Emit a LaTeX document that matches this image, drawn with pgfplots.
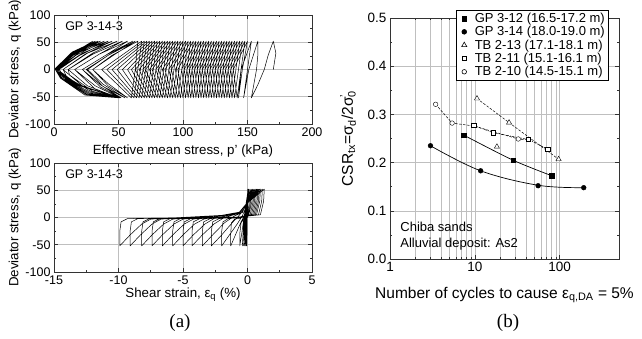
\documentclass[border=0pt]{standalone}
\usepackage{fontspec}
\setmainfont{Liberation Sans}
\newfontfamily\seriffont{Liberation Serif}
\usepackage{pgfplots}
\pgfplotsset{compat=1.18}
\newcommand\supsub[2]{\rlap{\textsuperscript{#1}}\textsubscript{#2}}
\begin{document}
\begin{tikzpicture}
\useasboundingbox (0pt,0pt) rectangle (642pt,338pt);
\pgfplotsset{
 panel/.style={scale only axis,
   axis line style={black!80, line width=0.7pt},
   tick style={black!80, line width=0.6pt},
   major tick length=4pt, minor tick length=2.2pt,
   grid style={black!25, line width=0.6pt},
   tick label style={font=\fontsize{12.5}{14}\selectfont},
   label style={font=\fontsize{13.3}{15}\selectfont},
   /pgf/number format/assume math mode=true,
 },
 loop/.style={black, line width=0.5pt, line join=round},
 legmark/.style={legend image code/.code={\path[draw=none, fill=none] (0pt,0pt) -- (15pt,0pt); \draw[solid, black, line width=0.6pt] plot[only marks, #1] coordinates {(6.5pt,0pt)};}},
}
% ---------- top left: q vs p'
\begin{axis}[panel, at={(54pt,214pt)}, anchor=south west, width=258pt, height=109pt,
  xmin=0, xmax=200, ymin=-100, ymax=100,
  xtick={0,50,100,150,200}, ytick={-100,-50,0,50,100},
  minor x tick num=1, minor y tick num=1,
  xmajorgrids, ymajorgrids,
  xlabel={Effective mean stress, p' (kPa)},
  ylabel={Deviator stress, q (kPa)},
  xlabel style={at={(axis description cs:0.5,-0.25)}, anchor=center},
  ylabel style={at={(axis description cs:-0.151,0.5)}, anchor=center},
  clip=false]
\node[anchor=west, font=\fontsize{12.5}{14}\selectfont] at (axis description cs:0.03,0.9) {GP 3-14-3};
\addplot[loop] coordinates {
(170,0) (172,30) (170,52)
(166,26) (163,0) (158,-28) (153,-52) (155,-26) (157,0) (158,26)
(158,52) (151,0) (147,-52) (150,0)
(153,52) (145,0) (143,-52) (146,0)
(150,52) (139,0) (142,-52) (145,0)
(148,52) (137,0) (140,-52) (143,0)
(146,52) (135,0) (138,-52) (141,0)
(144,52) (133,0) (136,-52) (139,0)
(142,52) (131,0) (134,-52) (137,0)
(140,52) (129,0) (132,-52) (135,0)
(138,52) (127,0) (130,-52) (133,0)
(136,52) (125,0) (128,-52) (131,0)
(134,52) (123,0) (126,-52) (129,0)
(132,52) (121,0) (124,-52) (127,0)
(130,52) (119,0) (122,-52) (125,0)
(128,52) (117,0) (120,-52) (123,0)
(126,52) (115,0) (118,-52) (121,0)
(124,52) (113,0) (116,-52) (119,0)
(122,52) (111,0) (114,-52) (117,0)
(120,52) (109,0) (112,-52) (115,0)
(118,52) (107,0) (110,-52) (113,0)
(116,52) (105,0) (108,-52) (111,0)
(114,52) (103,0) (106,-52) (109,0)
(112,52) (101,0) (104,-52) (107,0)
(110,52) (99,0) (102,-52) (105,0)
(108,52) (96,0) (100,-52) (103,0)
(106,52) (94,0) (98,-52) (101,0)
(104,52) (91,0) (96,-52) (99,0)
(102,52) (89,0) (94,-52) (97,0)
(100,52) (86,0) (92,-52) (95,0)
(98,52) (84,0) (90,-52) (93,0)
(96,52) (81,0) (88,-52) (91,0)
(94,52) (79,0) (86,-52) (89,0)
(92,52) (76,0) (84,-52) (87,0)
(90,52) (74,0) (82,-52) (85,0)
(88,52) (71,0) (80,-52) (83,0)
(86,52) (69,0) (78,-52) (81,0)
(84,52) (66,0) (76,-52) (79,0)
(82,52) (63,0) (74,-52) (77,0)
(80,52) (60,0) (72,-52) (75,0)
(78,52) (57,0) (70,-52) (73,0)
(76,52) (53,0) (68,-52) (71,0)
(74,52) (49,0) (66,-52) (69,0)
(72,52) (45,0) (64,-52) (67,0)
(70,52) (41,0) (62,-52) (65,0)
(68,52) (37,0) (60,-52) (63,0)
(65,52) (45,26) (30,0) (42,-26) (57,-52) (42,-30) (30,0) (46,26)
(63,52) (42,26) (26,0) (38,-27) (55,-52) (38,-31) (25,0) (42,26)
(61,52) (40,26) (22,0) (36,-28) (52,-52) (36,-32) (22,0) (40,26)
(57,52) (35,28) (16,0) (32,-30) (51,-52) (32,-36) (16,0) (35,28)
(53,52) (30,28) (11,0) (26,-30) (50,-52) (30,-40) (12,-10) (11,0) (30,30)
(49,52) (26,30) (7,0) (22,-30) (50,-52) (30,-42) (10,-14) (7,0) (24,28)
(45,52) (22,30) (4,2) (5,-4) (20,-30) (50,-52) (30,-44) (9,-18) (4,0) (20,26)
(42,52) (20,32) (3,2) (4,-4) (18,-28) (50,-52) (28,-44) (8,-18) (3,0) (17,26)
(39,52) (18,32) (2,2) (3,-4) (17,-27) (50,-52) (27,-45) (7,-18) (2,0) (15,26)
(36,52) (16,32) (2,2) (3,-4) (16,-26) (50,-52) (26,-46) (6,-17) (2,0) (14,26)
(34,52) (15,32) (1,2) (2,-4) (15,-25) (50,-52) (25,-46) (6,-17) (1,0) (13,26)
(32,52) (14,32) (1,2) (2,-4) (14,-25) (50,-52) (24,-47) (5,-16) (1,0) (12,26)
(30,52)
};
\end{axis}
% ---------- bottom left: q vs shear strain
\begin{axis}[panel, at={(54pt,66pt)}, anchor=south west, width=258pt, height=109pt,
  xmin=-15, xmax=5, ymin=-100, ymax=100,
  xtick={-15,-10,-5,0,5}, ytick={-100,-50,0,50,100},
  minor x tick num=1, minor y tick num=1,
  xmajorgrids, ymajorgrids,
  xlabel={Shear strain, ε\textsubscript{q} (\%)},
  ylabel={Deviator stress, q (kPa)},
  xlabel style={at={(axis description cs:0.5,-0.21)}, anchor=center},
  ylabel style={at={(axis description cs:-0.151,0.5)}, anchor=center},
  clip=false]
\node[anchor=west, font=\fontsize{12.5}{14}\selectfont] at (axis description cs:0.03,0.9) {GP 3-14-3};
\addplot[loop] coordinates {
(0,0) (0.02,52) (-0.03,0) (-0.05,-52) (-0.02,0) (0.02,52) (-0.05,0) (-0.1,-52) (-0.06,0)
(0.02,52) (-0.08,0) (-0.15,-52) (-0.1,0) (0.03,52) (-0.12,0) (-0.22,-52) (-0.15,0)
(0.03,52) (-0.16,0) (-0.3,-52) (-0.2,0) (0.04,52) (-0.22,0) (-0.4,-52) (-0.27,0) (0.05,52)
(0.0,30) (-0.1,5) (-0.3,-3) (-0.5,-10) (-0.6,-30) (-0.6,-52) (-0.45,-30) (-0.3,-5) (-0.1,20) (0.1,52)
(0.05,30) (-0.1,5) (-0.5,-1) (-1.0,-3) (-1.25,-10) (-1.3,-30) (-1.3,-52) (-0.9,-30) (-0.5,-8) (-0.2,5) (-0.05,25) (0.2,52)
(0.15,30) (0,5) (-0.6,0) (-1.5,-2) (-1.9,-8) (-2.0,-25) (-2.0,-52) (-1.4,-32) (-0.8,-12) (-0.4,3) (-0.1,20) (0.3,52)
(0.25,30) (0.05,5) (-0.6,1) (-2.2,-2) (-2.7,-8) (-2.8,-25) (-2.8,-52) (-2.0,-32) (-1.2,-10) (-0.6,5) (-0.15,20) (0.4,52)
(0.35,30) (0.1,5) (-0.6,1) (-2.9,-2) (-3.4,-8) (-3.5,-25) (-3.5,-52) (-2.7,-32) (-1.8,-10) (-1.0,3) (-0.4,9) (-0.1,25) (0.5,52)
(0.45,30) (0.2,5) (-0.6,1) (-3.7,-2) (-4.2,-8) (-4.3,-25) (-4.3,-52) (-3.5,-32) (-2.6,-12) (-1.8,0) (-0.6,8) (-0.1,25) (0.6,52)
(0.55,30) (0.3,5) (-0.6,1) (-4.4,-2) (-4.9,-8) (-5.0,-25) (-5.0,-52) (-4.2,-32) (-3.3,-12) (-2.6,-2) (-0.7,8) (-0.1,25) (0.7,52)
(0.65,30) (0.4,5) (-0.6,1) (-5.2,-2) (-5.7,-8) (-5.8,-25) (-5.8,-52) (-5.0,-32) (-4.1,-12) (-3.4,-3) (-2.0,3) (-0.6,9) (-0.1,25) (0.8,52)
(0.75,30) (0.5,5) (-0.6,1) (-6.0,-2) (-6.5,-8) (-6.6,-25) (-6.6,-52) (-5.8,-32) (-4.9,-12) (-4.2,-3) (-2.0,4) (-0.6,10) (-0.1,25) (0.9,52)
(0.85,30) (0.6,5) (-0.6,1) (-6.8,-2) (-7.3,-8) (-7.4,-25) (-7.4,-52) (-6.6,-32) (-5.7,-12) (-5.0,-3) (-2.0,4) (-0.6,10) (-0.1,25) (1.0,52)
(0.95,30) (0.7,5) (-0.6,1) (-7.6,-2) (-8.1,-8) (-8.2,-25) (-8.2,-52) (-7.4,-32) (-6.5,-12) (-5.8,-3) (-2.0,4) (-0.6,10) (-0.1,25) (1.15,52)
(1.1,30) (0.85,5) (-0.6,1) (-8.5,-2) (-9.0,-8) (-9.1,-25) (-9.1,-52) (-8.3,-32) (-7.4,-12) (-6.7,-3) (-2.0,4) (-0.6,10) (-0.1,25) (1.3,52)
(1.25,30) (1.0,5) (-0.6,1) (-9.3,-2) (-9.8,-8) (-9.9,-25) (-9.9,-52) (-9.1,-32) (-8.2,-12) (-7.5,-3) (-2.0,4) (-0.6,10) (-0.1,25) (0.0,40)
};
\end{axis}
% ---------- right: CSR vs N
\begin{axis}[panel, at={(390pt,79pt)}, anchor=south west, width=229pt, height=241pt,
  xmode=log, xmin=1, xmax=500, ymin=0, ymax=0.5,
  xtick={1,10,100}, xticklabels={1,10,100},
  ytick={0,0.1,0.2,0.3,0.4,0.5}, yticklabels={0.0,0.1,0.2,0.3,0.4,0.5},
  minor y tick num=1,
  xmajorgrids, xminorgrids, ymajorgrids,
  minor grid style={black!25, line width=0.6pt},
  tick label style={font=\fontsize{13.5}{15}\selectfont},
  label style={font=\fontsize{15.5}{17}\selectfont},
  xlabel={Number of cycles to cause ε\textsubscript{q,DA} = 5\%},
  ylabel={CSR\textsubscript{tx}=σ\textsubscript{d}/2σ\supsub{'}{0}},
  xlabel style={at={(axis description cs:0.5,-0.149)}, anchor=center},
  ylabel style={at={(axis description cs:-0.183,0.5)}, anchor=center},
  legend style={at={(axis description cs:0.288,1.033)}, anchor=north west,
    draw=black, line width=0.6pt, fill=white, inner sep=1.5pt,
    font=\fontsize{13}{15}\selectfont, row sep=0pt, nodes={inner ysep=1.2pt}},
  legend cell align=left,
  clip=false]
\addlegendimage{legmark={mark=square*, mark size=2.3pt, mark options={fill=black}}}
\addlegendentry{GP 3-12 (16.5-17.2 m)}
\addlegendimage{legmark={mark=*, mark size=2.4pt, mark options={fill=black}}}
\addlegendentry{GP 3-14 (18.0-19.0 m)}
\addlegendimage{legmark={mark=triangle, mark size=3pt}}
\addlegendentry{TB 2-13 (17.1-18.1 m)}
\addlegendimage{legmark={mark=square, mark size=2.2pt}}
\addlegendentry{TB 2-11 (15.1-16.1 m)}
\addlegendimage{legmark={mark=o, mark size=2.3pt}}
\addlegendentry{TB 2-10 (14.5-15.1 m)}
% lines
\addplot[forget plot, black, line width=0.7pt, smooth] coordinates {(7.4,0.257) (28.2,0.205) (80,0.173)};
\addplot[forget plot, black, line width=0.7pt, smooth, tension=0.6] coordinates {(3.0,0.235) (11.7,0.183) (55.7,0.153) (192,0.148)};
\addplot[forget plot, black, line width=0.5pt, dash pattern=on 2.5pt off 1.5pt] coordinates {(10.6,0.333) (25.3,0.283) (97,0.207)};
\addplot[forget plot, black, line width=0.5pt, dash pattern=on 2.5pt off 1.2pt on 0.8pt off 1.2pt] coordinates {(9.7,0.277) (16.5,0.262) (42.5,0.248) (72.4,0.228)};
\addplot[forget plot, black, line width=0.5pt, dash pattern=on 2.5pt off 1.5pt] coordinates {(3.45,0.321) (5.4,0.282) (9.7,0.276) (32.5,0.249) (42.5,0.247)};
% marks
\addplot[forget plot, only marks, mark=square*, mark size=2.3pt, black] coordinates {(7.4,0.257) (28.2,0.205) (80,0.173)};
\addplot[forget plot, only marks, mark=*, mark size=2.4pt, black] coordinates {(3.0,0.235) (11.7,0.183) (55.7,0.152) (192,0.148)};
\addplot[forget plot, only marks, mark=triangle*, mark size=3pt, draw=black, fill=white] coordinates {(10.6,0.333) (18.2,0.233) (25.3,0.283) (97,0.207)};
\addplot[forget plot, only marks, mark=square*, mark size=2.2pt, draw=black, fill=white] coordinates {(9.7,0.277) (16.5,0.262) (42.5,0.248) (72.4,0.228)};
\addplot[forget plot, only marks, mark=*, mark size=2.3pt, draw=black, fill=white] coordinates {(3.45,0.321) (5.4,0.282) (32.5,0.249)};
\node[anchor=west, font=\fontsize{13}{15}\selectfont] at (axis description cs:0.03,0.133) {Chiba sands};
\node[anchor=west, font=\fontsize{13}{15}\selectfont] at (axis description cs:0.03,0.062) {Alluvial deposit: As2};
\end{axis}
\node[font=\seriffont\fontsize{19}{21}\selectfont] at (180pt,15pt) {(a)};
\node[font=\seriffont\fontsize{19}{21}\selectfont] at (508pt,15pt) {(b)};
\end{tikzpicture}
\end{document}
